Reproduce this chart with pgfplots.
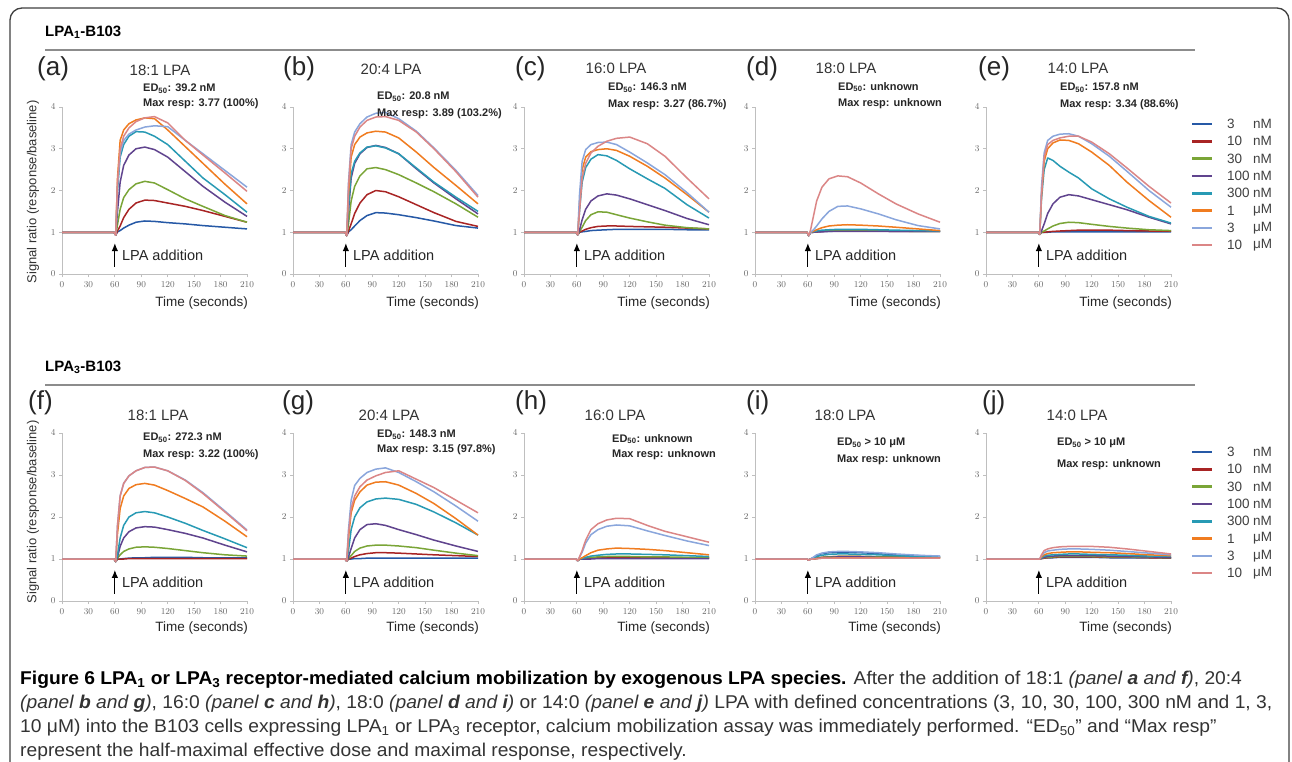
\documentclass[border=0pt]{standalone}
\usepackage{fontspec}
\setmainfont{Liberation Sans}
\newfontfamily\capfont[FakeStretch=1.04]{Liberation Sans}
\usepackage{pgfplots}
\usepackage{pgfplotstable}
\pgfplotsset{compat=1.18}
\usetikzlibrary{arrows.meta}

\definecolor{c1}{RGB}{38,89,166}
\definecolor{c2}{RGB}{168,36,36}
\definecolor{c3}{RGB}{122,165,55}
\definecolor{c4}{RGB}{96,68,142}
\definecolor{c5}{RGB}{40,154,180}
\definecolor{c6}{RGB}{240,124,32}
\definecolor{c7}{RGB}{138,166,220}
\definecolor{c8}{RGB}{219,134,134}

% ---------- LPA1 ----------
\pgfplotstableread{
t s1 s2 s3 s4 s5 s6 s7 s8
0 1 1 1 1 1 1 1 1
59 1 1 1 1 1 1 1 1
61 0.93 0.93 0.93 0.93 0.93 0.93 0.93 0.93
63 1.01 1.03 1.18 1.50 2.00 2.30 2.10 2.20
66 1.04 1.15 1.55 2.20 2.80 3.20 2.90 3.00
70 1.10 1.35 1.83 2.60 3.10 3.45 3.20 3.30
76 1.17 1.55 2.02 2.85 3.30 3.60 3.35 3.50
84 1.24 1.70 2.16 3.00 3.41 3.69 3.45 3.65
94 1.27 1.77 2.22 3.04 3.40 3.74 3.52 3.74
105 1.26 1.76 2.18 2.98 3.30 3.72 3.55 3.77
120 1.23 1.70 2.02 2.80 3.10 3.45 3.53 3.62
140 1.20 1.62 1.80 2.45 2.70 3.05 3.20 3.20
160 1.16 1.52 1.62 2.10 2.30 2.65 2.88 2.85
185 1.12 1.38 1.40 1.72 1.90 2.15 2.48 2.42
210 1.08 1.24 1.24 1.38 1.48 1.68 2.08 1.98
}\ta
\pgfplotstableread{
t s1 s2 s3 s4 s5 s6 s7 s8
0 1 1 1 1 1 1 1 1
59 1 1 1 1 1 1 1 1
61 0.92 0.92 0.92 0.92 0.92 0.92 0.92 0.92
63 1.01 1.03 1.20 1.50 1.60 1.90 2.20 2.10
66 1.06 1.20 1.75 2.30 2.40 2.80 3.10 3.00
70 1.15 1.45 2.10 2.65 2.70 3.10 3.40 3.30
76 1.28 1.70 2.35 2.88 2.90 3.28 3.60 3.52
84 1.40 1.90 2.52 3.03 3.04 3.38 3.76 3.68
94 1.47 2.00 2.55 3.08 3.07 3.42 3.85 3.76
105 1.46 1.97 2.50 3.03 3.02 3.40 3.87 3.77
120 1.42 1.85 2.38 2.88 2.88 3.26 3.72 3.68
140 1.35 1.66 2.18 2.52 2.54 2.92 3.42 3.40
160 1.27 1.47 1.97 2.18 2.20 2.55 3.02 3.00
185 1.16 1.26 1.68 1.80 1.84 2.12 2.48 2.45
210 1.10 1.14 1.36 1.44 1.50 1.68 1.88 1.84
}\tb
\pgfplotstableread{
t s1 s2 s3 s4 s5 s6 s7 s8
0 1 1 1 1 1 1 1 1
59 1 1 1 1 1 1 1 1
61 0.94 0.94 0.94 0.94 0.94 0.94 0.94 0.94
63 1.00 1.00 1.02 1.05 1.50 1.70 1.90 1.50
66 1.01 1.03 1.12 1.30 2.20 2.50 2.70 2.30
70 1.02 1.07 1.28 1.55 2.55 2.80 2.98 2.65
76 1.04 1.11 1.42 1.75 2.75 2.93 3.10 2.90
84 1.05 1.14 1.49 1.87 2.86 2.98 3.15 3.06
94 1.06 1.15 1.48 1.92 2.83 3.00 3.16 3.18
105 1.07 1.15 1.42 1.89 2.72 2.96 3.10 3.25
120 1.07 1.14 1.34 1.80 2.52 2.82 2.92 3.28
140 1.07 1.13 1.25 1.66 2.28 2.58 2.66 3.12
160 1.07 1.12 1.17 1.52 2.05 2.30 2.38 2.82
185 1.06 1.10 1.11 1.33 1.66 1.90 1.95 2.30
210 1.06 1.08 1.08 1.18 1.34 1.48 1.48 1.80
}\tc
\pgfplotstableread{
t s1 s2 s3 s4 s5 s6 s7 s8
0 1 1 1 1 1 1 1 1
59 1 1 1 1 1 1 1 1
61 0.92 0.92 0.92 0.92 0.92 0.92 0.92 0.92
63 1.00 1.00 1.00 1.00 1.00 1.00 1.00 1.05
66 1.00 1.00 1.01 1.00 1.01 1.02 1.05 1.35
70 1.01 1.01 1.02 1.01 1.03 1.06 1.15 1.75
76 1.02 1.02 1.03 1.01 1.05 1.11 1.32 2.08
84 1.02 1.03 1.04 1.02 1.06 1.15 1.50 2.28
94 1.03 1.03 1.04 1.02 1.07 1.17 1.62 2.35
105 1.03 1.03 1.04 1.02 1.07 1.18 1.63 2.33
120 1.03 1.03 1.04 1.02 1.07 1.17 1.56 2.18
140 1.03 1.03 1.03 1.02 1.06 1.15 1.44 1.92
160 1.02 1.02 1.03 1.02 1.05 1.12 1.30 1.68
185 1.02 1.02 1.02 1.02 1.04 1.08 1.16 1.44
210 1.02 1.02 1.02 1.02 1.03 1.04 1.08 1.24
}\td
\pgfplotstableread{
t s1 s2 s3 s4 s5 s6 s7 s8
0 1 1 1 1 1 1 1 1
59 1 1 1 1 1 1 1 1
61 0.95 0.95 0.95 0.95 0.95 0.95 0.95 0.95
63 1.00 1.00 1.00 1.03 1.80 1.90 2.10 1.90
66 1.00 1.00 1.03 1.20 2.50 2.70 2.90 2.80
70 1.00 1.01 1.08 1.45 2.78 3.00 3.20 3.10
76 1.01 1.02 1.15 1.68 2.72 3.14 3.30 3.20
84 1.01 1.03 1.21 1.84 2.58 3.21 3.35 3.26
94 1.01 1.04 1.24 1.90 2.44 3.20 3.36 3.30
105 1.01 1.05 1.23 1.87 2.30 3.12 3.30 3.30
120 1.01 1.05 1.19 1.78 2.04 2.92 3.12 3.16
140 1.01 1.05 1.14 1.66 1.80 2.60 2.82 2.88
160 1.01 1.04 1.10 1.54 1.60 2.20 2.46 2.54
185 1.01 1.03 1.06 1.36 1.38 1.76 2.00 2.10
210 1.01 1.03 1.04 1.20 1.22 1.36 1.60 1.70
}\te
% ---------- LPA3 ----------
\pgfplotstableread{
t s1 s2 s3 s4 s5 s6 s7 s8
0 1 1 1 1 1 1 1 1
59 1 1 1 1 1 1 1 1
61 0.94 0.94 0.94 0.94 0.94 0.94 0.94 0.94
63 1.00 1.00 1.02 1.05 1.10 1.60 1.80 1.80
66 1.00 1.00 1.10 1.30 1.50 2.20 2.50 2.50
70 1.01 1.00 1.18 1.50 1.80 2.50 2.80 2.80
76 1.02 1.01 1.24 1.65 2.00 2.68 2.98 2.98
84 1.03 1.01 1.28 1.74 2.10 2.77 3.10 3.10
94 1.03 1.01 1.29 1.77 2.13 2.80 3.18 3.18
105 1.04 1.01 1.28 1.76 2.10 2.76 3.19 3.19
120 1.04 1.01 1.25 1.70 2.00 2.63 3.10 3.10
140 1.04 1.01 1.20 1.61 1.85 2.44 2.88 2.87
160 1.03 1.01 1.15 1.50 1.68 2.24 2.58 2.56
185 1.03 1.01 1.10 1.33 1.48 1.90 2.14 2.12
210 1.03 1.01 1.07 1.17 1.27 1.53 1.69 1.67
}\tf
\pgfplotstableread{
t s1 s2 s3 s4 s5 s6 s7 s8
0 1 1 1 1 1 1 1 1
59 1 1 1 1 1 1 1 1
61 0.95 0.95 0.95 0.95 0.95 0.95 0.95 0.95
63 1.00 1.00 1.02 1.05 1.20 1.50 1.70 1.60
66 1.00 1.02 1.08 1.25 1.70 2.10 2.40 2.20
70 1.01 1.06 1.18 1.50 2.00 2.40 2.75 2.50
76 1.01 1.10 1.26 1.70 2.22 2.60 2.92 2.72
84 1.02 1.13 1.31 1.82 2.36 2.76 3.06 2.88
94 1.02 1.15 1.33 1.84 2.43 2.83 3.14 2.98
105 1.02 1.15 1.33 1.80 2.45 2.84 3.17 3.06
120 1.02 1.14 1.31 1.70 2.42 2.76 3.06 3.10
140 1.02 1.12 1.27 1.58 2.30 2.56 2.84 2.90
160 1.02 1.10 1.21 1.45 2.12 2.32 2.60 2.70
185 1.02 1.08 1.14 1.31 1.86 1.96 2.26 2.40
210 1.02 1.06 1.08 1.18 1.57 1.57 1.90 2.10
}\tg
\pgfplotstableread{
t s1 s2 s3 s4 s5 s6 s7 s8
0 1 1 1 1 1 1 1 1
59 1 1 1 1 1 1 1 1
61 0.96 0.96 0.96 0.96 0.96 0.96 0.96 0.96
63 1.00 1.00 1.00 1.00 1.00 1.00 1.04 1.05
66 1.00 1.00 1.01 1.00 1.01 1.03 1.16 1.20
70 1.01 1.01 1.02 1.00 1.04 1.08 1.38 1.45
76 1.02 1.02 1.04 1.00 1.07 1.15 1.58 1.70
84 1.03 1.03 1.05 1.01 1.09 1.21 1.70 1.84
94 1.04 1.03 1.06 1.01 1.11 1.24 1.78 1.93
105 1.04 1.03 1.06 1.01 1.12 1.26 1.81 1.97
120 1.04 1.03 1.06 1.01 1.12 1.25 1.79 1.96
140 1.04 1.03 1.05 1.01 1.11 1.23 1.67 1.80
160 1.03 1.03 1.05 1.01 1.10 1.20 1.56 1.66
185 1.03 1.02 1.04 1.01 1.08 1.15 1.43 1.53
210 1.03 1.02 1.04 1.01 1.06 1.10 1.32 1.40
}\th
\pgfplotstableread{
t s1 s2 s3 s4 s5 s6 s7 s8
0 1 1 1 1 1 1 1 1
59 1 1 1 1 1 1 1 1
61 0.97 0.97 0.97 0.97 0.97 0.97 0.97 0.97
63 1.00 1.00 1.00 1.00 1.00 1.00 1.00 1.00
66 1.03 1.00 1.00 1.00 1.02 1.00 1.04 1.00
70 1.08 1.02 1.02 1.01 1.06 1.01 1.10 1.01
76 1.13 1.04 1.04 1.03 1.09 1.02 1.14 1.02
84 1.15 1.05 1.05 1.04 1.11 1.02 1.17 1.02
94 1.16 1.06 1.06 1.05 1.12 1.03 1.18 1.02
105 1.16 1.06 1.06 1.05 1.12 1.03 1.18 1.02
120 1.15 1.06 1.06 1.05 1.11 1.03 1.17 1.02
140 1.13 1.05 1.05 1.04 1.10 1.03 1.15 1.02
160 1.10 1.05 1.05 1.04 1.08 1.03 1.12 1.02
185 1.08 1.04 1.04 1.04 1.06 1.02 1.09 1.02
210 1.06 1.04 1.04 1.03 1.05 1.02 1.07 1.02
}\ti
\pgfplotstableread{
t s1 s2 s3 s4 s5 s6 s7 s8
0 1 1 1 1 1 1 1 1
59 1 1 1 1 1 1 1 1
61 1 1 1 1 1 1 1 1
63 1.01 1.01 1.02 1.02 1.03 1.05 1.08 1.10
66 1.02 1.02 1.03 1.04 1.07 1.10 1.15 1.20
70 1.03 1.03 1.04 1.06 1.09 1.13 1.19 1.24
76 1.03 1.04 1.05 1.07 1.10 1.15 1.21 1.27
84 1.04 1.05 1.06 1.08 1.11 1.16 1.23 1.29
94 1.04 1.05 1.06 1.08 1.12 1.17 1.24 1.30
105 1.04 1.05 1.06 1.08 1.12 1.17 1.24 1.30
120 1.04 1.05 1.06 1.08 1.11 1.16 1.23 1.30
140 1.03 1.04 1.05 1.07 1.10 1.15 1.21 1.28
160 1.03 1.04 1.05 1.06 1.09 1.13 1.18 1.24
185 1.03 1.03 1.04 1.05 1.07 1.10 1.14 1.18
210 1.02 1.03 1.03 1.04 1.06 1.08 1.10 1.12
}\tj

\pgfplotsset{panel/.style={
  scale only axis, width=185pt, anchor=south west,
  xmin=0, xmax=210, ymin=0, ymax=4,
  axis lines*=left,
  axis line style={draw=black!25, line width=0.9pt},
  xtick={0,30,...,210}, ytick={0,1,2,3,4},
  tick align=outside, major tick length=3pt,
  tick style={draw=black!25, line width=0.8pt},
  ticklabel style={font=\fontsize{9.5}{10}\selectfont, text=black!60},
  xticklabel style={yshift=-1pt},
  clip=false,
  every axis plot/.append style={line width=1.5pt, line join=round},
}}

\newcommand\panel[4]{%
\begin{axis}[panel, at={(#2pt,-#3pt)}, height=#4pt]
\addplot[c1] table[x=t,y=s1]{#1};
\addplot[c2] table[x=t,y=s2]{#1};
\addplot[c3] table[x=t,y=s3]{#1};
\addplot[c4] table[x=t,y=s4]{#1};
\addplot[c5] table[x=t,y=s5]{#1};
\addplot[c6] table[x=t,y=s6]{#1};
\addplot[c7] table[x=t,y=s7]{#1};
\addplot[c8] table[x=t,y=s8]{#1};
\draw[-{Latex[length=8pt,width=6.5pt]}, line width=1.2pt] (axis cs:60,0.17) -- (axis cs:60,0.74);
\node[anchor=west, inner sep=0pt, font=\fontsize{14.5}{16}\selectfont, text=black!85] at (axis cs:68,0.45) {LPA addition};
\end{axis}}

\newcommand\letter[3]{\node[anchor=west, inner sep=0pt, font=\fontsize{26}{28}\selectfont, text=black!85] at (#1pt,-#2pt) {#3};}
\newcommand\ttl[3]{\node[inner sep=0pt, font=\fontsize{15}{16}\selectfont, text=black!80] at (#1pt,-#2pt) {#3};}
\newcommand\ed[3]{\node[anchor=west, inner sep=0pt, font=\bfseries\fontsize{11}{12}\selectfont, text=black!85] at (#1pt,-#2pt) {#3};}
\newcommand\tlab[2]{\node[anchor=east, inner sep=0pt, font=\fontsize{13.5}{15}\selectfont, text=black!85] at (#1pt,-#2pt) {Time (seconds)};}

\begin{document}
\begin{tikzpicture}
\useasboundingbox (0pt,0pt) rectangle (1292pt,-761pt);
\fill[white] (0pt,0pt) rectangle (1292pt,-761pt);
\draw[line width=1.3pt, black!75, rounded corners=12pt] (10pt,-800pt) -- (10pt,-8pt) -- (1289pt,-8pt) -- (1289pt,-800pt);

% headers
\node[anchor=west, inner sep=0pt, font=\bfseries\fontsize{15}{16}\selectfont] at (45pt,-32pt) {LPA\textsubscript{1}-B103};
\draw[black!45, line width=1.8pt] (45pt,-50pt) -- (1195pt,-50pt);
\node[anchor=west, inner sep=0pt, font=\bfseries\fontsize{15}{16}\selectfont] at (45pt,-367pt) {LPA\textsubscript{3}-B103};
\draw[black!45, line width=1.8pt] (45pt,-385pt) -- (1195pt,-385pt);

% row 1
\panel{\ta}{62}{274}{167}
\panel{\tb}{293}{274}{167}
\panel{\tc}{524}{274}{167}
\panel{\td}{755}{274}{167}
\panel{\te}{986}{274}{167}
% row 2
\panel{\tf}{62}{601}{168}
\panel{\tg}{293}{601}{168}
\panel{\th}{524}{601}{168}
\panel{\ti}{755}{601}{168}
\panel{\tj}{986}{601}{168}

% y labels
\node[rotate=90, font=\fontsize{13}{14}\selectfont, text=black!80] at (33pt,-192pt) {Signal ratio (response/baseline)};
\node[rotate=90, font=\fontsize{13}{14}\selectfont, text=black!80] at (33pt,-512pt) {Signal ratio (response/baseline)};

% x labels
\tlab{248}{303}\tlab{479}{303}\tlab{710}{303}\tlab{941}{303}\tlab{1172}{303}
\tlab{248}{628}\tlab{479}{628}\tlab{710}{628}\tlab{941}{628}\tlab{1172}{628}

% panel letters
\letter{37}{69}{(a)}\letter{283}{69}{(b)}\letter{515}{69}{(c)}\letter{746}{69}{(d)}\letter{978}{69}{(e)}
\letter{28}{403}{(f)}\letter{282}{403}{(g)}\letter{515}{403}{(h)}\letter{746}{403}{(i)}\letter{982}{403}{(j)}

% titles
\ttl{160}{70}{18:1 LPA}\ttl{391}{69}{20:4 LPA}\ttl{616}{68}{16:0 LPA}\ttl{846}{68}{18:0 LPA}\ttl{1078}{68}{14:0 LPA}
\ttl{158}{415}{18:1 LPA}\ttl{389}{415}{20:4 LPA}\ttl{615}{415}{16:0 LPA}\ttl{845}{415}{18:0 LPA}\ttl{1077}{415}{14:0 LPA}

% ED50 / max resp
\ed{143}{89}{ED\textsubscript{50}: 39.2 nM}\ed{143}{104}{Max resp: 3.77 (100\%)}
\ed{377}{97}{ED\textsubscript{50}: 20.8 nM}\ed{377}{114}{Max resp: 3.89 (103.2\%)}
\ed{608}{88}{ED\textsubscript{50}: 146.3 nM}\ed{608}{105}{Max resp: 3.27 (86.7\%)}
\ed{838}{87}{ED\textsubscript{50}: unknown}\ed{838}{104}{Max resp: unknown}
\ed{1060}{88}{ED\textsubscript{50}: 157.8 nM}\ed{1060}{105}{Max resp: 3.34 (88.6\%)}
\ed{143}{438}{ED\textsubscript{50}: 272.3 nM}\ed{143}{455}{Max resp: 3.22 (100\%)}
\ed{377}{435}{ED\textsubscript{50}: 148.3 nM}\ed{377}{450}{Max resp: 3.15 (97.8\%)}
\ed{612}{439}{ED\textsubscript{50}: unknown}\ed{612}{455}{Max resp: unknown}
\ed{837}{443}{ED\textsubscript{50} > 10 μM}\ed{837}{460}{Max resp: unknown}
\ed{1057}{443}{ED\textsubscript{50} > 10 μM}\ed{1057}{465}{Max resp: unknown}

% legends
\foreach \yz in {124,452}{
\foreach \n/\u [count=\k from 1] in {3/nM,10/nM,30/nM,100/nM,300/nM,1/μM,3/μM,10/μM}{
  \pgfmathsetmacro\yy{-\yz-17.3*(\k-1)}
  \draw[color=c\k, line width=2.6pt] (1192pt,\yy pt) -- (1212pt,\yy pt);
  \node[anchor=west, inner sep=0pt, font=\fontsize{13.5}{16}\selectfont, text=black!75] at (1227pt,\yy pt) {\n};
  \node[anchor=west, inner sep=0pt, font=\fontsize{13.5}{16}\selectfont, text=black!75] at (1253pt,\yy pt) {\u};
}}

% caption
\node[anchor=north west, inner sep=0pt, align=left, font=\capfont\fontsize{18.5}{24}\selectfont, text=black!80] at (20pt,-671pt) {%
{\bfseries\color{black}Figure 6 LPA\textsubscript{1} or LPA\textsubscript{3} receptor-mediated calcium mobilization by exogenous LPA species.} After the addition of 18:1 \textit{(panel \textbf{a} and \textbf{f})}, 20:4\\
\textit{(panel \textbf{b} and \textbf{g})}, 16:0 \textit{(panel \textbf{c} and \textbf{h})}, 18:0 \textit{(panel \textbf{d} and \textbf{i})} or 14:0 \textit{(panel \textbf{e} and \textbf{j})} LPA with defined concentrations (3, 10, 30, 100, 300 nM and 1, 3,\\
10 μM) into the B103 cells expressing LPA\textsubscript{1} or LPA\textsubscript{3} receptor, calcium mobilization assay was immediately performed. “ED\textsubscript{50}” and “Max resp”\\
represent the half-maximal effective dose and maximal response, respectively.};
\end{tikzpicture}
\end{document}
